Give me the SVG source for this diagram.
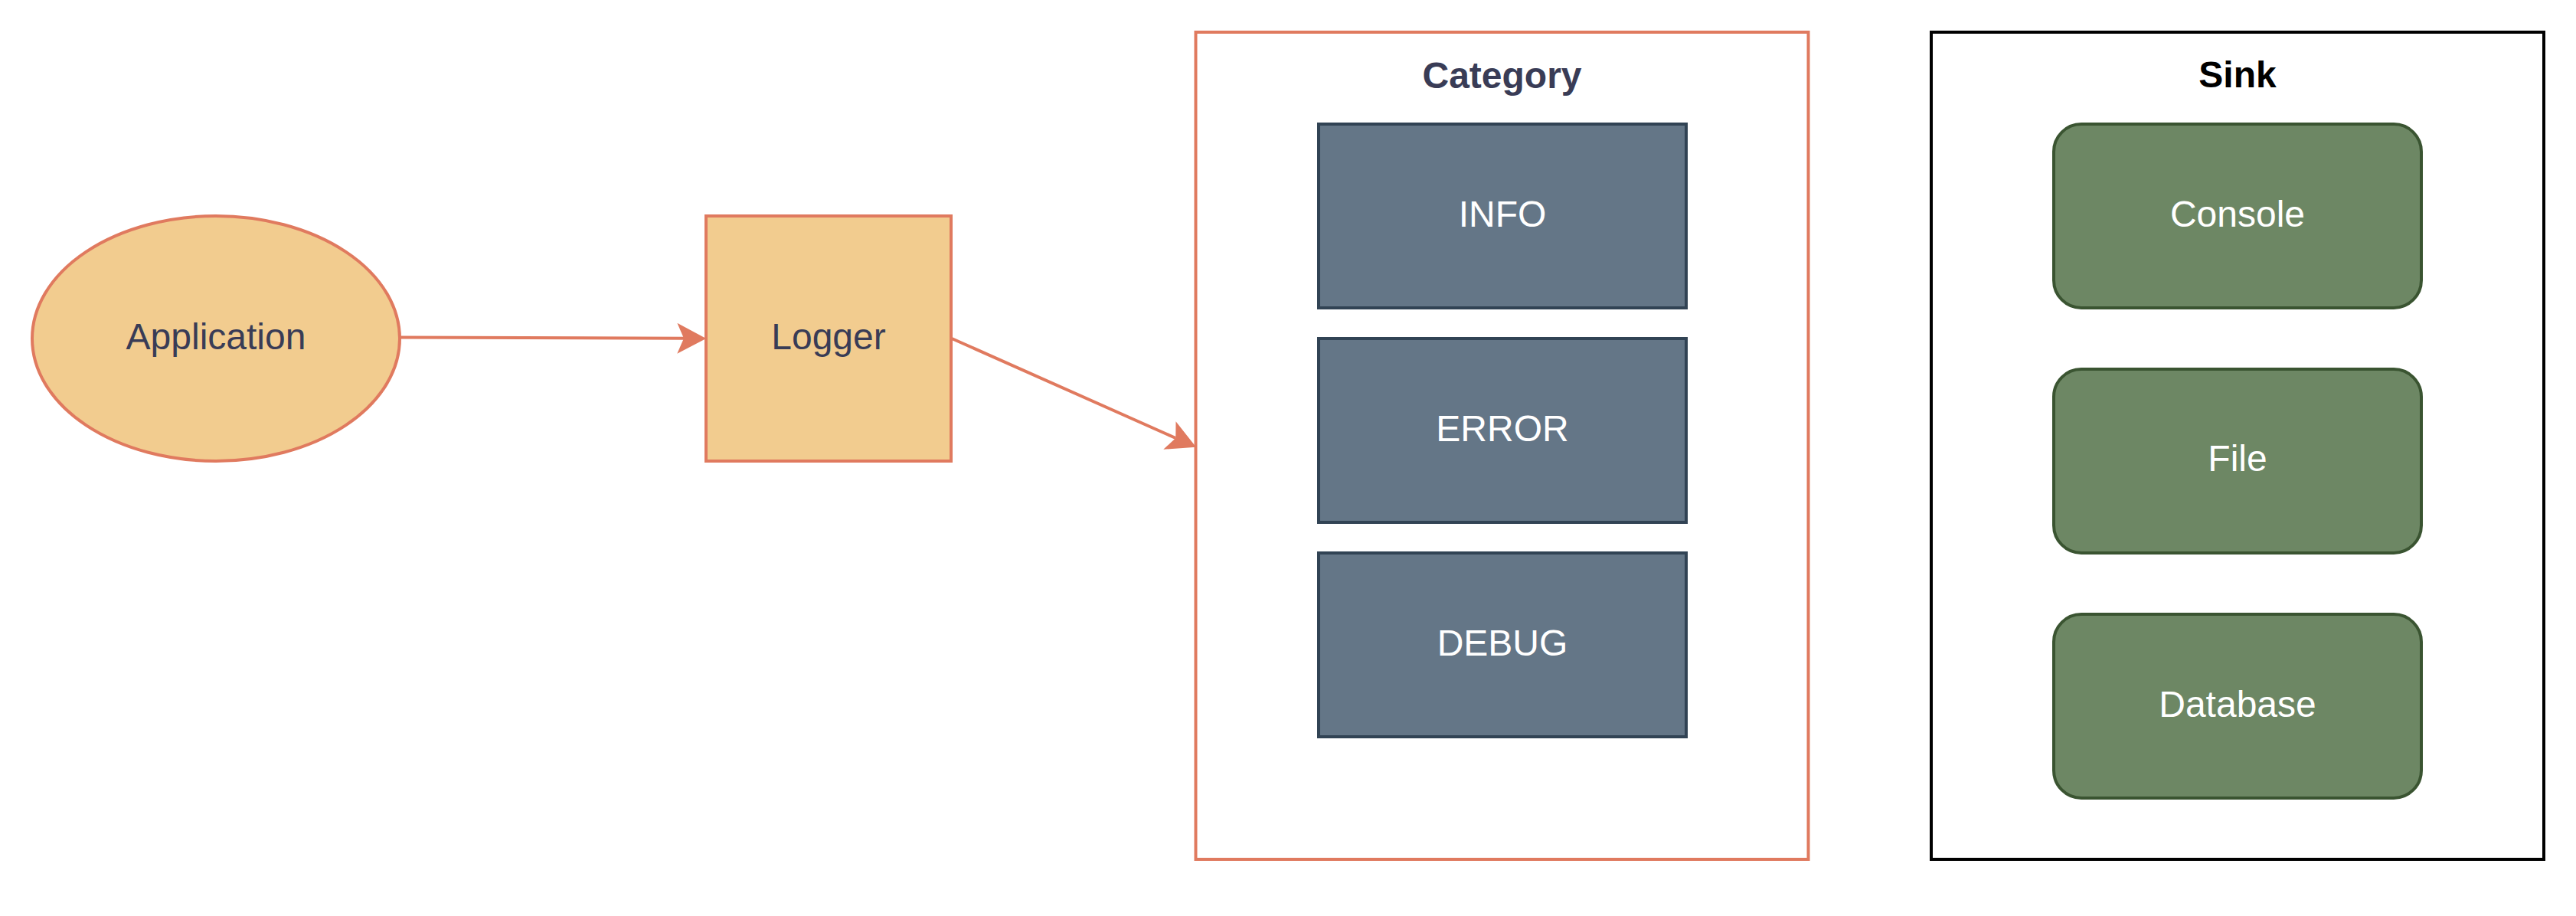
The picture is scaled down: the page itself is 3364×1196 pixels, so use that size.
<svg xmlns="http://www.w3.org/2000/svg" width="3364" height="1196" viewBox="0 0 3364 1196">
  <style>
    text { font-family: "Liberation Sans", Arial, sans-serif; font-size: 48px; text-anchor: middle; }
    .warm { fill: #F2CC8F; stroke: #E07A5F; stroke-width: 4; }
    .warm-text { fill: #393C56; }
    .slate { fill: #647687; stroke: #314354; stroke-width: 4; }
    .green { fill: #6D8764; stroke: #3A5431; stroke-width: 4; }
    .white-text { fill: #FFFFFF; }
    .title { font-weight: bold; }
    .edge { fill: none; stroke: #E07A5F; stroke-width: 4; }
  </style>
  <defs>
    <marker id="arrow" markerUnits="userSpaceOnUse" markerWidth="40" markerHeight="40" viewBox="0 0 36 37" refX="8" refY="18.5" orient="auto">
      <path d="M0,0 L35,18.5 L0,37 L8,18.5 Z" fill="#E07A5F"/>
    </marker>
  </defs>
  <rect width="3364" height="1196" fill="#FFFFFF"/>

  <g id="category">
    <rect x="1561.5" y="42" width="800" height="1080" fill="#FFFFFF" stroke="#E07A5F" stroke-width="4"/>
    <text class="title" x="1961.5" y="115" fill="#393C56">Category</text>
  </g>
  <g id="sink">
    <rect x="2522" y="42" width="800" height="1080" fill="#FFFFFF" stroke="#000000" stroke-width="4"/>
    <text class="title" x="2922" y="114" fill="#000000">Sink</text>
  </g>

  <g id="connectors">
    <path class="edge" d="M522,440.5 L893,441.8" marker-end="url(#arrow)"/>
    <path class="edge" d="M1243,442 L1535.3,572" marker-end="url(#arrow)"/>
  </g>

  <g id="application">
    <ellipse class="warm" cx="282" cy="442" rx="240" ry="160"/>
    <text class="warm-text" x="282" y="456">Application</text>
  </g>
  <g id="logger">
    <rect class="warm" x="922" y="282" width="320" height="320"/>
    <text class="warm-text" x="1082" y="456">Logger</text>
  </g>

  <g id="info">
    <rect class="slate" x="1722" y="162" width="480" height="240"/>
    <text class="white-text" x="1962" y="295.5">INFO</text>
  </g>
  <g id="error">
    <rect class="slate" x="1722" y="442" width="480" height="240"/>
    <text class="white-text" x="1962" y="575.5">ERROR</text>
  </g>
  <g id="debug">
    <rect class="slate" x="1722" y="722" width="480" height="240"/>
    <text class="white-text" x="1962" y="855.5">DEBUG</text>
  </g>

  <g id="console">
    <rect class="green" x="2682" y="162" width="480" height="240" rx="36" ry="36"/>
    <text class="white-text" x="2922" y="295.5">Console</text>
  </g>
  <g id="file">
    <rect class="green" x="2682" y="482" width="480" height="240" rx="36" ry="36"/>
    <text class="white-text" x="2922" y="615">File</text>
  </g>
  <g id="database">
    <rect class="green" x="2682" y="802" width="480" height="240" rx="36" ry="36"/>
    <text class="white-text" x="2922" y="935.5">Database</text>
  </g>
</svg>
